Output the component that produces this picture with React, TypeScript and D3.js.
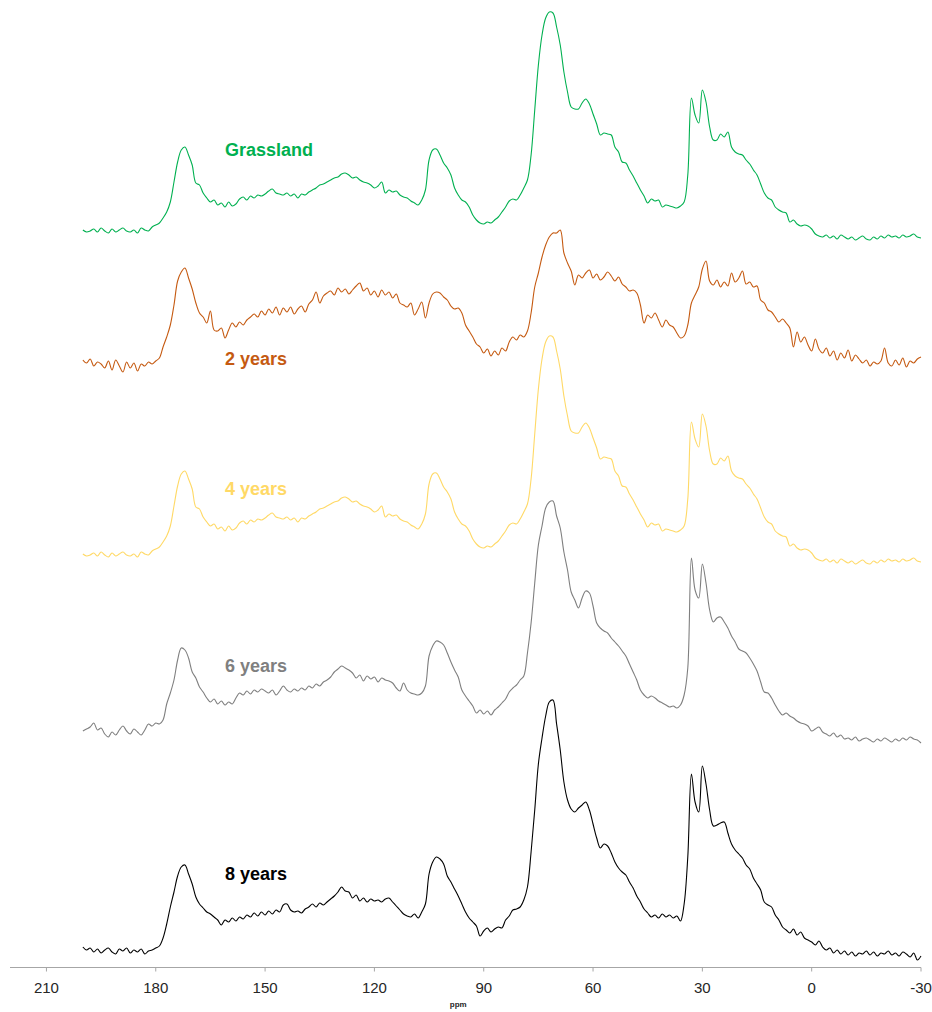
import React from "react";
import * as d3 from "d3";

// Chemical-shift grid (ppm), one point per ppm from 200 down to -30
const ppm = d3.range(200, -31, -1);

// 13C CP-MAS intensities (arbitrary units), listed from 200 ppm to -30 ppm
const grassland = [
  10, 8, 9, 11, 8, 12, 9, 7, 11, 8,
  10, 12, 9, 8, 10, 7, 12, 10, 9, 13,
  15, 17, 22, 28, 38, 58, 78, 90, 93, 85,
  75, 57, 55, 47, 42, 38, 40, 35, 37, 33,
  38, 34, 36, 41, 43, 40, 44, 42, 45, 44,
  46, 49, 51, 47, 46, 45, 47, 44, 46, 42,
  46, 45, 48, 50, 52, 55, 56, 58, 60, 62,
  63, 66, 67, 65, 62, 63, 60, 58, 57, 55,
  52, 54, 58, 47, 50, 48, 49, 45, 43, 42,
  39, 37, 35, 40, 50, 80, 90, 91, 85, 77,
  72, 65, 52, 45, 40, 38, 33, 25, 20, 17,
  16, 18, 17, 20, 23, 28, 33, 39, 41, 40,
  45, 52, 60, 85, 130, 175, 205, 222, 228, 227,
  213, 195, 168, 148, 133, 131, 131, 137, 141, 136,
  126, 116, 105, 107, 106, 105, 93, 88, 78, 77,
  70, 64, 57, 50, 44, 37, 41, 39, 40, 33,
  35, 34, 33, 32, 34, 38, 65, 142, 125, 117,
  150, 138, 113, 100, 100, 106, 103, 108, 93, 88,
  86, 85, 80, 76, 70, 65, 56, 47, 42, 40,
  33, 30, 28, 27, 18, 20, 16, 14, 15, 14,
  11, 6, 4, 3, 5, 2, 4, 1, 5, 3,
  1, 3, 0, 2, 4, 1, 0, 3, 1, 4,
  2, 5, 3, 4, 2, 5, 3, 4, 6, 3,
  2,
];

const twoYears = [
  15, 12, 16, 9, 13, 11, 7, 14, 5, 15,
  9, 3, 13, 7, 12, 4, 11, 9, 13, 11,
  14, 17, 28, 38, 50, 70, 94, 103, 107, 97,
  86, 72, 62, 58, 52, 64, 45, 44, 47, 37,
  45, 52, 48, 53, 50, 55, 58, 61, 58, 64,
  60, 66, 62, 68, 60, 67, 63, 68, 61, 66,
  69, 63, 71, 75, 83, 72, 79, 82, 84, 80,
  87, 83, 86, 81, 85, 89, 92, 84, 87, 80,
  84, 78, 85, 80, 83, 77, 81, 72, 70, 68,
  72, 60, 66, 73, 57, 72, 81, 83, 82, 78,
  75, 69, 66, 67, 62, 50, 44, 38, 31, 28,
  22, 26, 19, 24, 20, 27, 24, 33, 38, 35,
  40, 38, 44, 62, 88, 102, 118, 130, 138, 142,
  142, 145, 122, 112, 104, 90, 100, 97, 102, 105,
  97, 101, 95, 98, 103, 99, 94, 98, 91, 88,
  84, 85, 82, 70, 52, 60, 57, 62, 55, 48,
  55, 50, 48, 42, 37, 39, 50, 72, 80, 88,
  106, 114, 94, 90, 95, 88, 93, 89, 102, 93,
  97, 104, 91, 93, 88, 89, 75, 72, 65, 63,
  58, 53, 56, 52, 47, 28, 43, 33, 38, 30,
  24, 36, 26, 22, 27, 19, 24, 15, 22, 17,
  25, 14, 20, 16, 12, 15, 9, 13, 11, 14,
  27, 12, 9, 15, 10, 17, 8, 14, 12, 16,
  18,
];

const fourYears = [
  10, 8, 9, 11, 8, 12, 9, 7, 11, 8,
  10, 12, 9, 8, 10, 7, 12, 10, 9, 13,
  15, 17, 22, 28, 38, 58, 78, 90, 93, 85,
  75, 57, 55, 47, 42, 38, 40, 35, 37, 33,
  38, 34, 36, 41, 43, 40, 44, 42, 45, 44,
  46, 49, 51, 47, 46, 45, 47, 44, 46, 42,
  46, 45, 48, 50, 52, 55, 56, 58, 60, 62,
  63, 66, 67, 65, 62, 63, 60, 58, 57, 55,
  52, 54, 58, 47, 50, 48, 49, 45, 43, 42,
  39, 37, 35, 40, 50, 80, 90, 91, 85, 77,
  72, 65, 52, 45, 40, 38, 33, 25, 20, 17,
  16, 18, 17, 20, 23, 28, 33, 39, 41, 40,
  45, 52, 60, 85, 130, 175, 205, 222, 228, 227,
  213, 195, 168, 148, 133, 131, 131, 137, 141, 136,
  126, 116, 105, 107, 106, 105, 93, 88, 78, 77,
  70, 64, 57, 50, 44, 37, 41, 39, 40, 33,
  35, 34, 33, 32, 34, 38, 65, 142, 125, 117,
  150, 138, 113, 100, 100, 106, 103, 108, 93, 88,
  86, 85, 80, 76, 70, 65, 56, 47, 42, 40,
  33, 30, 28, 27, 18, 20, 16, 14, 15, 14,
  11, 6, 4, 3, 5, 2, 4, 1, 5, 3,
  1, 3, 0, 2, 4, 1, 0, 3, 1, 4,
  2, 5, 3, 4, 2, 5, 3, 4, 6, 3,
  2,
];

const sixYears = [
  17, 19, 21, 25, 18, 20, 14, 11, 16, 13,
  18, 22, 17, 14, 19, 16, 13, 18, 24, 22,
  25, 24, 28, 44, 55, 68, 88, 100, 98, 90,
  76, 70, 61, 56, 50, 46, 49, 44, 47, 43,
  46, 44, 50, 55, 53, 57, 54, 58, 56, 59,
  57, 55, 58, 53, 57, 62, 58, 56, 59, 57,
  60, 58, 62, 60, 64, 62, 66, 68, 71, 76,
  79, 82, 80, 78, 75, 70, 73, 67, 72, 69,
  71, 66, 70, 68, 67, 65, 60, 57, 65, 58,
  55, 54, 53, 55, 62, 92, 102, 107, 106, 103,
  95, 86, 78, 71, 58, 52, 47, 42, 35, 38,
  34, 37, 33, 38, 41, 45, 49, 56, 60, 63,
  68, 72, 95, 125, 165, 203, 222, 240, 246, 247,
  232, 220, 196, 178, 156, 148, 140, 150, 157, 155,
  142, 125, 120, 117, 115, 110, 106, 102, 97, 92,
  84, 76, 68, 58, 53, 50, 52, 50, 47, 45,
  43, 41, 42, 40, 43, 53, 80, 190, 158, 150,
  184, 165, 138, 126, 130, 131, 126, 120, 112, 106,
  99, 97, 95, 90, 84, 77, 66, 56, 55, 50,
  43, 37, 33, 35, 32, 30, 27, 25, 24, 22,
  17, 19, 21, 16, 14, 12, 15, 11, 13, 9,
  10, 8, 11, 7, 9, 10, 8, 6, 9, 7,
  10, 8, 6, 9, 7, 10, 8, 11, 9, 8,
  5,
];

const eightYears = [
  15, 12, 14, 10, 13, 9, 12, 14, 10, 8,
  13, 11, 14, 9, 12, 10, 13, 8, 11, 12,
  14, 16, 24, 38, 55, 70, 86, 95, 97, 88,
  78, 65, 58, 54, 50, 48, 45, 42, 37, 42,
  40, 44, 41, 45, 43, 47, 45, 49, 46, 50,
  47, 51, 48, 52, 50, 57, 58, 52, 50, 51,
  49, 53, 55, 58, 55, 59, 57, 60, 63, 66,
  70, 75, 71, 70, 64, 67, 61, 64, 60, 63,
  61, 62, 60, 63, 64, 60, 56, 52, 48, 46,
  45, 48, 44, 50, 58, 88, 100, 105, 103, 98,
  86, 80, 73, 66, 58, 50, 44, 40, 36, 26,
  31, 34, 30, 33, 35, 34, 42, 46, 52, 53,
  55, 62, 75, 110, 152, 198, 224, 246, 260, 262,
  238, 212, 180, 162, 153, 150, 154, 157, 160, 152,
  138, 124, 114, 118, 116, 109, 100, 94, 90, 87,
  80, 74, 66, 60, 53, 49, 45, 47, 44, 48,
  45, 47, 44, 46, 41, 58, 105, 188, 160, 150,
  196, 178, 152, 136, 137, 139, 140, 129, 118, 112,
  108, 104, 97, 93, 84, 78, 72, 60, 57, 55,
  47, 42, 35, 32, 29, 33, 27, 30, 24, 22,
  20, 17, 21, 15, 12, 14, 9, 12, 8, 11,
  7, 10, 6, 9, 8, 11, 7, 10, 6, 9,
  8, 11, 7, 9, 6, 10, 8, 5, 9, 2,
  6,
];

// Series names and x-axis ticks
const seriesNames = ["Grassland", "2 years", "4 years", "6 years", "8 years"];
const tickValues = [210, 180, 150, 120, 90, 60, 30, 0, -30];

// Stacking: vertical offset of each spectrum and lift of its label (intensity units)
const layout = [
  { values: grassland, color: "#00b050", offset: 722, labelLift: 84 },
  { values: twoYears, color: "#c55a11", offset: 587, labelLift: 10 },
  { values: fourYears, color: "#ffd966", offset: 398, labelLift: 69 },
  { values: sixYears, color: "#7f7f7f", offset: 214, labelLift: 76 },
  { values: eightYears, color: "#000000", offset: 0, labelLift: 82 },
];

const WIDTH = 932;
const HEIGHT = 1012;
const AXIS_Y = 967.5;
const LABEL_PPM = 161;

export default function App() {
  const x = d3.scaleLinear().domain([220, -30]).range([10, 921]);
  const y = d3.scaleLinear().domain([0, 950]).range([962, 12]);

  return (
    <svg
      width={WIDTH}
      height={HEIGHT}
      style={{ position: "absolute", left: 0, top: 0, background: "#fff" }}
      fontFamily="'Liberation Sans', Arial, sans-serif"
    >
      {layout.map((s, k) => {
        const line = d3
          .line<number>()
          .curve(d3.curveCatmullRom.alpha(0.5))
          .x((_, i) => x(ppm[i]))
          .y((v) => y(v + s.offset));
        return (
          <g key={seriesNames[k]}>
            <path
              d={line(s.values) ?? ""}
              fill="none"
              stroke={s.color}
              strokeWidth={1.1}
              strokeLinejoin="round"
            />
            <text
              x={x(LABEL_PPM)}
              y={y(s.offset + s.labelLift)}
              fill={s.color}
              fontSize={18}
              fontWeight="bold"
            >
              {seriesNames[k]}
            </text>
          </g>
        );
      })}

      {/* ppm axis */}
      <g>
        <line
          x1={x.range()[0]}
          x2={x.range()[1]}
          y1={AXIS_Y}
          y2={AXIS_Y}
          stroke="#a6a6a6"
          strokeWidth={1}
        />
        {tickValues.map((t) => (
          <g key={t} transform={`translate(${x(t)},0)`}>
            <line y1={AXIS_Y} y2={AXIS_Y + 4} stroke="#a6a6a6" strokeWidth={1} />
            <text
              y={AXIS_Y + 25}
              textAnchor="middle"
              fontSize={15}
              fill="#262626"
            >
              {t}
            </text>
          </g>
        ))}
        <text
          x={x(97)}
          y={1007}
          textAnchor="middle"
          fontSize={8}
          fontWeight="bold"
          fill="#262626"
        >
          ppm
        </text>
      </g>
    </svg>
  );
}
